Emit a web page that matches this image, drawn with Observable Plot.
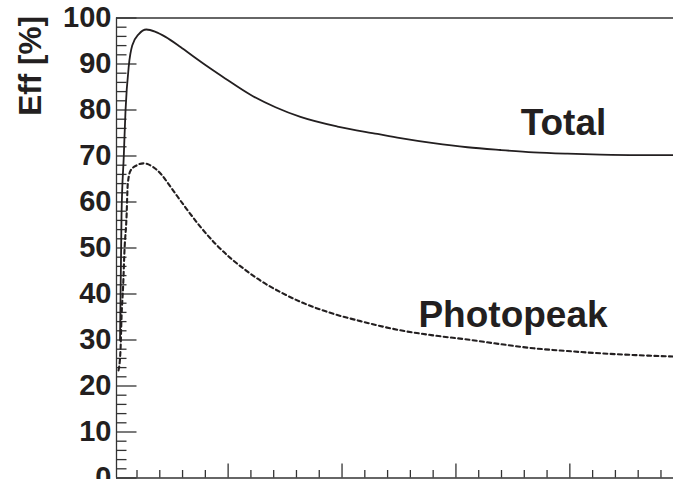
<!DOCTYPE html>
<html><head><meta charset="utf-8">
<script src="https://cdn.jsdelivr.net/npm/d3@7"></script>
<script src="https://cdn.jsdelivr.net/npm/@observablehq/plot@0.6"></script>
<style>html,body{margin:0;padding:0;background:#fff;overflow:hidden} svg{display:block}</style>
</head><body><div id="chart"></div><script>
// Total efficiency curve
const totalX = [0.051, 0.064, 0.084, 0.099, 0.128, 0.158, 0.216, 0.283, 0.362, 0.45, 0.582, 0.714, 0.845, 0.977, 1.196, 1.416, 1.635, 1.96, 2.311, 2.513, 2.803, 3.101, 3.391, 3.681, 3.979, 4.27, 4.594, 4.91];
const totalY = [30, 57, 70, 79.8, 89.6, 94, 96.5, 97.5, 97.0, 95.9, 93.7, 91.3, 89.0, 86.8, 83.3, 80.6, 78.5, 76.4, 74.8, 73.9, 72.8, 71.9, 71.3, 70.8, 70.5, 70.3, 70.2, 70.2];
// Photopeak efficiency curve
const photoX = [0.0376, 0.055, 0.064, 0.079, 0.09, 0.108, 0.119, 0.143, 0.2, 0.257, 0.336, 0.406, 0.494, 0.626, 0.757, 0.889, 1.021, 1.153, 1.284, 1.46, 1.635, 1.897, 2.162, 2.513, 2.803, 3.101, 3.391, 3.681, 3.979, 4.27, 4.594, 4.91];
const photoY = [23.4, 27.7, 34.9, 42.2, 49.4, 56.7, 63.9, 66.8, 68.0, 68.4, 67.7, 66.2, 63.3, 58.8, 54.6, 50.9, 47.8, 45.2, 42.9, 40.4, 38.3, 35.9, 34.1, 32.1, 31.0, 30.1, 29.1, 28.2, 27.6, 27.1, 26.7, 26.4];
// Labels
const labelNames = ["Total", "Photopeak"];
const labelX = [3.944, 3.501];
const labelY = [77.1, 35.5];
// Axes
const xDomain = [0.02, 4.91];
const yDomain = [0, 100];
const yMajor = [0, 10, 20, 30, 40, 50, 60, 70, 80, 90, 100];
const yMinor = [2, 4, 6, 8, 12, 14, 16, 18, 22, 24, 26, 28, 32, 34, 36, 38, 42, 44, 46, 48, 52, 54, 56, 58, 62, 64, 66, 68, 72, 74, 76, 78, 82, 84, 86, 88, 92, 94, 96, 98];
const xMajor = [1, 2, 3, 4];
const xMinor = [0.2, 0.4, 0.6, 0.8, 1.2, 1.4, 1.6, 1.8, 2.2, 2.4, 2.6, 2.8, 3.2, 3.4, 3.6, 3.8, 4.2, 4.4, 4.6, 4.8];
const yTitle = "Eff [%]";

const W = 673, H = 479, mL = 116, mR = 0, mT = 17.5, mB = 1.5;
const plotW = W - mL - mR, plotH = H - mT - mB;
const ink = "#231f20", frameInk = "#333";

const total = totalX.map((x, i) => ({x, y: totalY[i]}));
const photo = photoX.map((x, i) => ({x, y: photoY[i]}));
const labels = labelNames.map((t, i) => ({t, x: labelX[i], y: labelY[i]}));

const chart = Plot.plot({
  width: W, height: H,
  marginLeft: mL, marginRight: mR, marginTop: mT, marginBottom: mB,
  style: {fontFamily: "'Liberation Sans', Arial, Helvetica, sans-serif", background: "#fff", color: ink},
  x: {domain: xDomain, axis: null},
  y: {domain: yDomain, axis: null},
  marks: [
    Plot.ruleY([yDomain[1], yDomain[0]], {stroke: frameInk, strokeWidth: 1.3}),
    Plot.ruleX([xDomain[0]], {stroke: frameInk, strokeWidth: 1.3}),
    Plot.tickY(yMajor, {y: d => d, insetRight: plotW - 20.5, stroke: frameInk, strokeWidth: 1.3}),
    Plot.tickY(yMinor, {y: d => d, insetRight: plotW - 10.5, stroke: frameInk, strokeWidth: 1.3}),
    Plot.tickX(xMajor, {x: d => d, insetTop: plotH - 14, stroke: frameInk, strokeWidth: 1.3}),
    Plot.tickX(xMinor, {x: d => d, insetTop: plotH - 7.5, stroke: frameInk, strokeWidth: 1.3}),
    Plot.axisY(yMajor, {tickSize: 0, tickPadding: 5, fontSize: 29, fontWeight: "bold", label: null, fill: ink}),
    Plot.text([yTitle], {text: d => d, frameAnchor: "top-left", rotate: -90, textAnchor: "end", dx: -98, dy: -2, fontSize: 31.5, fontWeight: "bold", fill: ink}),
    Plot.line(total, {x: "x", y: "y", curve: "monotone-x", stroke: ink, strokeWidth: 1.8}),
    Plot.line(photo, {x: "x", y: "y", curve: "monotone-x", stroke: ink, strokeWidth: 2.1, strokeDasharray: "4,3.3"}),
    Plot.text(labels, {x: "x", y: "y", text: "t", fontSize: 37, fontWeight: "bold", fill: ink})
  ]
});
document.getElementById("chart").append(chart);
</script></body></html>
